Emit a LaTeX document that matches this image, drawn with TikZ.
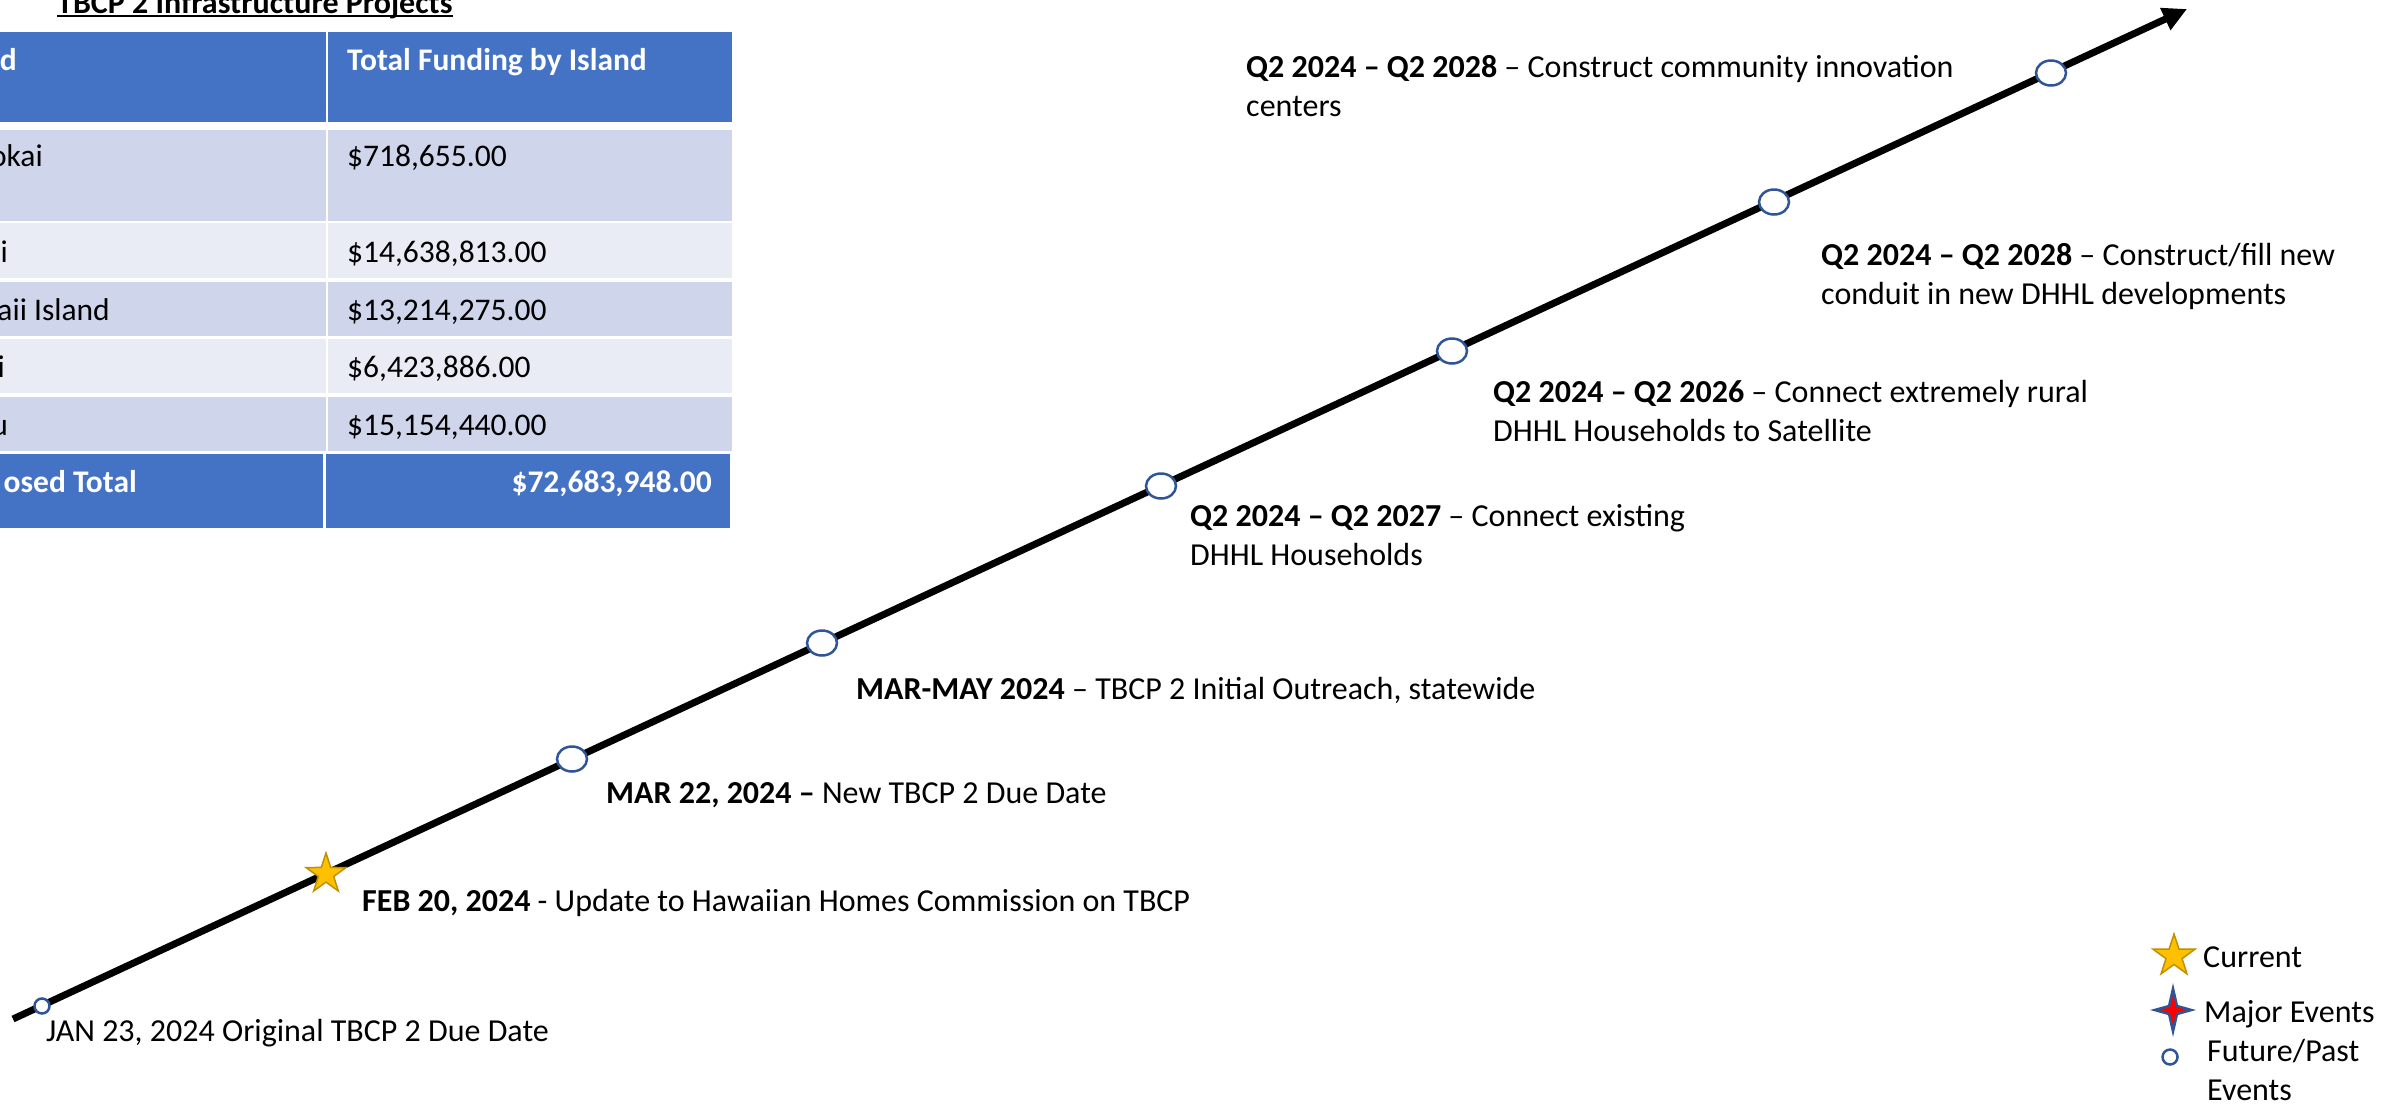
\documentclass[tikz,border=0pt]{standalone}
\usepackage{fontspec}
\setmainfont{Carlito}
\usetikzlibrary{positioning}
\usetikzlibrary{shapes.geometric}
\usetikzlibrary{arrows.meta}

\definecolor{hdrblue}{HTML}{4472C4}
\definecolor{rowdark}{HTML}{CFD5EA}
\definecolor{rowlight}{HTML}{E9EBF5}
\definecolor{ringblue}{HTML}{2F5597}
\definecolor{stargold}{HTML}{FFC000}
\definecolor{staredge}{HTML}{BF9000}

\newcommand{\slidefont}{\fontsize{32}{39}\selectfont}
\newcommand{\cellfont}{\fontsize{31.5}{38.5}\selectfont}

\tikzset{
    every node/.append style={
        font=\slidefont,
        inner sep=0pt
    },
    timeline/.style={
        line width=7pt,
        -{Triangle[length=24pt,width=23pt]}
    },
    event/.style={
        ellipse,
        draw=ringblue,
        line width=2.5pt,
        fill=white,
        minimum width=30pt,
        minimum height=25pt
    },
    pastevent/.style={
        circle,
        draw=ringblue,
        line width=2.5pt,
        fill=white,
        minimum size=15pt
    },
    current/.style={
        star,
        star points=5,
        star point ratio=2.6,
        draw=staredge,
        line width=1.5pt,
        fill=stargold,
        minimum size=42pt
    },
    % labels sit on the baseline of their last line
    eventlabel/.style={
        anchor=base west,
        align=left
    },
    cellhead/.style={
        font=\cellfont\bfseries,
        text=white
    },
    celltext/.style={
        font=\cellfont,
        text=black
    }
}

\begin{document}
\begin{tikzpicture}[x=1pt, y=-1pt]
    \useasboundingbox (0,0) rectangle (2389,1104);
    \clip (0,0) rectangle (2389,1104);

    % table title and cells
    \node[anchor=base west, font=\slidefont\bfseries] (title) at (57,13) {TBCP 2 Infrastructure Projects};
    \draw[line width=2pt] ([yshift=-3pt]title.base west) -- ([yshift=-3pt]title.base east);

    \fill[hdrblue] (-81,32) rectangle (326,122);
    \fill[hdrblue] (328,32) rectangle (732,122);
    \foreach \top/\bot/\shade in {130/221/rowdark, 223/278/rowlight, 282/336/rowdark, 339/393/rowlight, 397/451/rowdark}{
        \fill[\shade] (-81,\top) rectangle (326,\bot);
        \fill[\shade] (328,\top) rectangle (732,\bot);
    }
    \fill[hdrblue] (-81,454) rectangle (323,528);
    \fill[hdrblue] (326,454) rectangle (730,528);

    \node[cellhead, anchor=base east] (islandhead) at (17,70) {d};
    \node[cellhead, anchor=base west] (fundhead) at (347,70) {Total Funding by Island};
    \node[celltext, anchor=base east] (molokai) at (43,166) {okai};
    \node[celltext, anchor=base west] (molokaifund) at (347,166) {\$718,655.00};
    \node[celltext, anchor=base east] (lanai) at (8,262) {ai};
    \node[celltext, anchor=base west] (lanaifund) at (347,262) {\$14,638,813.00};
    \node[celltext, anchor=base east] (hawaii) at (110,320) {aii Island};
    \node[celltext, anchor=base west] (hawaiifund) at (347,320) {\$13,214,275.00};
    \node[celltext, anchor=base east] (kauai) at (5,377) {i};
    \node[celltext, anchor=base west] (kauaifund) at (347,377) {\$6,423,886.00};
    \node[celltext, anchor=base east] (oahu) at (8,435) {u};
    \node[celltext, anchor=base west] (oahufund) at (347,435) {\$15,154,440.00};
    \node[cellhead, anchor=base east] (totalname) at (137,492) {osed Total};
    \node[cellhead, anchor=base east] (totalfund) at (712,492) {\$72,683,948.00};

    % timeline
    \coordinate (start) at (13,1019);
    \coordinate (tip) at (2187,9);
    \draw[timeline] (start) -- (tip);

    \node[pastevent] (jan) at (42,1006) {};
    \node[current] (feb) at (326,874) {};
    \node[event] (mar) at (572,759) {};
    \node[event] (outreach) at (822,643) {};
    \node[event] (existing) at (1161,486) {};
    \node[event] (rural) at (1452,351) {};
    \node[event] (conduit) at (1774,202) {};
    \node[event] (centers) at (2051,73) {};

    \node[eventlabel] (janlabel) at (46,1041) {JAN 23, 2024 Original TBCP 2 Due Date};
    \node[eventlabel] (feblabel) at (362,911) {\textbf{FEB 20, 2024} - Update to Hawaiian Homes Commission on TBCP};
    \node[eventlabel] (marlabel) at (606,803) {\textbf{MAR 22, 2024 –} New TBCP 2 Due Date};
    \node[eventlabel] (outreachlabel) at (856,699) {\textbf{MAR-MAY 2024} – TBCP 2 Initial Outreach, statewide};
    \node[eventlabel] (existinglabel) at (1190,565) {\textbf{Q2 2024 – Q2 2027} – Connect existing\\DHHL Households};
    \node[eventlabel] (rurallabel) at (1493,441) {\textbf{Q2 2024 – Q2 2026} – Connect extremely rural\\DHHL Households to Satellite};
    \node[eventlabel] (conduitlabel) at (1821,304) {\textbf{Q2 2024 – Q2 2028} – Construct/fill new\\conduit in new DHHL developments};
    \node[eventlabel] (centerslabel) at (1246,116) {\textbf{Q2 2024 – Q2 2028} – Construct community innovation\\centers};

    % legend
    \node[current, minimum size=44pt] (keycurrent) at (2174,956) {};
    \node[eventlabel] (keycurrentlabel) at (2203,967) {Current};
    \begin{scope}[shift={(2173,1010)}]
        \fill[ringblue] (0,-27) -- (5,-5) -- (23,0) -- (5,5) -- (0,27) -- (-5,5) -- (-23,0) -- (-5,-5) -- cycle;
        \fill[red] (0,-15) -- (3,-3) -- (13,0) -- (3,3) -- (0,15) -- (-3,3) -- (-13,0) -- (-3,-3) -- cycle;
    \end{scope}
    \node[eventlabel] (keymajorlabel) at (2204,1022) {Major Events};
    \node[pastevent] (keypast) at (2170,1057) {};
    \node[eventlabel] (keypastlabel) at (2207,1100) {Future/Past\\Events};
\end{tikzpicture}
\end{document}
